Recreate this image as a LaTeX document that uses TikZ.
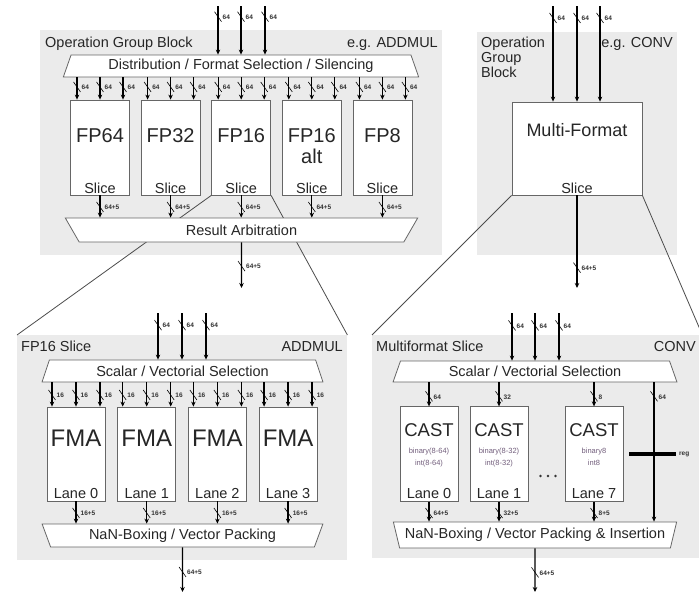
\documentclass[tikz,border=0pt]{standalone}
\usepackage{fontspec}
\setmainfont{Liberation Sans}
\usetikzlibrary{arrows.meta,calc,shapes.geometric}
\definecolor{castnote}{RGB}{115,95,125}

% slash mark and bus width on an arrow
\newcommand{\bw}[2]{%
  \draw[line width=0.6pt] ($(#1)+(-3.5,-5)$) -- ($(#1)+(3.5,5)$);
  \node[wlbl] at ($(#1)+(4.5,0.5)$) {#2};}

\begin{document}
\begin{tikzpicture}[x=1pt,y=-1pt,>=Stealth,
  grp/.style={fill=black!8,draw=none,inner sep=0pt,anchor=north west},
  unit/.style={draw=black!60,fill=white,line width=0.8pt,inner sep=0pt},
  sel/.style={trapezium,trapezium left angle=66,trapezium right angle=66,
    trapezium stretches=true,draw=black!60,fill=white,line width=0.8pt,
    inner sep=0pt,font=\fontsize{14.5}{15}\selectfont,text=black!85},
  selinv/.style={sel,shape border rotate=180},
  bus/.style={-{Stealth[length=5pt,width=4.5pt]},line width=1.3pt},
  wlbl/.style={font=\fontsize{6.5}{6.5}\selectfont\bfseries,anchor=west,inner sep=0pt,text=black!80},
  txt/.style={font=\fontsize{14.5}{15}\selectfont,inner sep=0pt,text=black!85},
  big/.style={font=\fontsize{20}{20}\selectfont,inner sep=0pt,text=black!85},
  note/.style={font=\fontsize{7.5}{8}\selectfont,inner sep=0pt,text=castnote},
  zoomline/.style={line width=0.8pt,black!70}]
  \useasboundingbox (0,0) rectangle (699,597);
  \fill[white] (0,0) rectangle (699,597);
  \clip (0,0) rectangle (699,597);

  % operation group blocks and slices
  \node[grp,minimum width=402,minimum height=225] (tlblk) at (40,30) {};
  \node[grp,minimum width=200,minimum height=223] (trblk) at (477,32) {};
  \node[grp,minimum width=330,minimum height=225] (blblk) at (17,335) {};
  \node[grp,minimum width=330,minimum height=223] (brblk) at (372,335) {};

  % top left: ADDMUL block
  \node[txt,anchor=base west] (tlname) at (45,47) {Operation Group Block};
  \node[txt,anchor=base east] (tlop) at (438,47) {e.g. ADDMUL};
  \node[sel,minimum width=356,minimum height=22] (dist) at (241,66)
    {Distribution / Format Selection / Silencing};
  \foreach \x [count=\k] in {218,241,265}{
    \coordinate (tlin\k) at (\x,6);
    \draw[bus] (tlin\k) -- coordinate[pos=.22] (m) (tlin\k |- dist.north);
    \bw{m}{64}
  }
  \foreach \n/\t/\i in {fp64/FP64/0,fp32/FP32/1,fp16/FP16/2,fp16alt/FP16/3,fp8/FP8/4}{
    \node[unit,minimum width=59,minimum height=95] (\n) at ({100+70.6*\i},147.5) {};
    \node[big,anchor=base] (\n-t) at ($(\n.north)+(0,43)$) {\t};
    \node[txt,anchor=base] (\n-s) at ($(\n.south)+(0,-2)$) {Slice};
    \foreach \o in {-23,0,23}{
      \draw[bus] ($(\n.north |- dist.south)+(\o,0)$) -- coordinate[pos=.43] (m) ($(\n.north)+(\o,0)$);
      \bw{m}{64}
    }
  }
  \node[big,anchor=base] (fp16alt-a) at ($(fp16alt.north)+(0,64)$) {alt};

  % zoom lines
  \draw[zoomline] (fp16.south west) -- (blblk.north west);
  \draw[zoomline] (fp16.south east) -- (blblk.north east);

  \node[selinv,minimum width=353,minimum height=24] (arb) at (241.5,230) {Result Arbitration};
  \foreach \n in {fp64,fp32,fp16,fp16alt,fp8}{
    \draw[bus] (\n.south) -- coordinate[pos=.52] (m) (\n.south |- arb.north);
    \bw{m}{64+5}
  }
  \coordinate (tlout) at (241.5,288);
  \draw[bus] (arb.south) -- coordinate[pos=.52] (m) (tlout);
  \bw{m}{64+5}

  % top right: CONV block
  \node[txt,align=left,anchor=north west] (trname) at (481,36.3) {Operation\\Group\\Block};
  \node[txt,anchor=base east] (trop) at (673,47) {e.g. CONV};
  \node[unit,minimum width=130,minimum height=93] (mf) at (577,148.5) {};
  \node[txt,font=\fontsize{18}{18}\selectfont,anchor=base] (mf-t) at ($(mf.north)+(0,35)$) {Multi-Format};
  \node[txt,anchor=base] (mf-s) at ($(mf.south)+(0,-2)$) {Slice};
  \foreach \x [count=\k] in {553,577,600}{
    \coordinate (trin\k) at (\x,6);
    \draw[bus] (trin\k) -- coordinate[pos=.125] (m) (trin\k |- mf.north);
    \bw{m}{64}
  }
  \coordinate (trout) at (577,288);
  \draw[bus] (mf.south) -- coordinate[pos=.78] (m) (trout);
  \bw{m}{64+5}
  \draw[zoomline] (mf.south west) -- (brblk.north west);
  \draw[zoomline] (mf.south east) -- (brblk.north east);

  % bottom left: FP16 slice
  \node[txt,anchor=base west] (blname) at (21,351) {FP16 Slice};
  \node[txt,anchor=base east] (blop) at (343,351) {ADDMUL};
  \node[sel,minimum width=281,minimum height=22] (scl) at (182.5,371) {Scalar / Vectorial Selection};
  \node[selinv,minimum width=281,minimum height=23] (nan) at (182.5,535.5) {NaN-Boxing / Vector Packing};
  \foreach \x [count=\k] in {158,182,206}{
    \coordinate (blin\k) at (\x,313);
    \draw[bus] (blin\k) -- coordinate[pos=.26] (m) (blin\k |- scl.north);
    \bw{m}{64}
  }
  \foreach \i in {0,...,3}{
    \node[unit,minimum width=58,minimum height=94] (fma\i) at ({76+70.7*\i},454) {};
    \node[txt,font=\fontsize{24}{24}\selectfont,anchor=base] (fma\i-t) at ($(fma\i.north)+(0,40)$) {FMA};
    \node[txt,anchor=base] (fma\i-s) at ($(fma\i.south)+(0,-3)$) {Lane \i};
    \foreach \o in {-24,0,24}{
      \draw[bus] ($(fma\i.north |- scl.south)+(\o,0)$) -- coordinate[pos=.52] (m) ($(fma\i.north)+(\o,0)$);
      \bw{m}{16}
    }
    \draw[bus] (fma\i.south) -- coordinate[pos=.52] (m) (fma\i.south |- nan.north);
    \bw{m}{16+5}
  }
  \coordinate (blout) at (182.5,592);
  \draw[bus] (nan.south) -- coordinate[pos=.55] (m) (blout);
  \bw{m}{64+5}

  % bottom right: multiformat slice
  \node[txt,anchor=base west] (brname) at (376,351) {Multiformat Slice};
  \node[txt,anchor=base east] (brop) at (696,351) {CONV};
  \node[sel,minimum width=284,minimum height=21] (scr) at (535,371.5) {Scalar / Vectorial Selection};
  \node[selinv,minimum width=284,minimum height=26] (nanr) at (535,535)
    {NaN-Boxing / Vector Packing \& Insertion};
  \foreach \x [count=\k] in {512,535,559}{
    \coordinate (brin\k) at (\x,313);
    \draw[bus] (brin\k) -- coordinate[pos=.26] (m) (brin\k |- scr.north);
    \bw{m}{64}
  }
  \foreach \x/\bt/\it/\w/\i in {429/binary(8-64)/int(8-64)/64/0,499/binary(8-32)/int(8-32)/32/1,594/binary8/int8/8/7}{
    \node[unit,minimum width=58,minimum height=94.5] (cast\i) at (\x,454) {};
    \node[txt,font=\fontsize{18.5}{18.5}\selectfont,anchor=base] (cast\i-t) at ($(cast\i.north)+(0,30.5)$) {CAST};
    \node[note,anchor=base] (cast\i-b) at ($(cast\i.north)+(0,47.5)$) {\bt};
    \node[note,anchor=base] (cast\i-i) at ($(cast\i.north)+(0,59.5)$) {\it};
    \node[txt,anchor=base] (cast\i-s) at ($(cast\i.south)+(0,-3)$) {Lane \i};
    \draw[bus] (cast\i.north |- scr.south) -- coordinate[pos=.58] (m) (cast\i.north);
    \bw{m}{\w}
    \draw[bus] (cast\i.south) -- coordinate[pos=.57] (m) (cast\i.south |- nanr.north);
    \bw{m}{\w+5}
  }
  \foreach \d in {-7.5,0,7.5}
    \fill[black!80] (548+\d,476) circle (1.3);
  \draw[bus] (654,0 |- scr.south) -- coordinate[pos=.1] (m) (654,0 |- nanr.north);
  \bw{m}{64}
  \coordinate (rega) at (629,454);
  \coordinate (regb) at (676,454);
  \draw[line width=4pt] (rega) -- (regb);
  \node[wlbl] (reg) at (679,454.5) {reg};
  \coordinate (brout) at (535,592);
  \draw[bus] (nanr.south) -- coordinate[pos=.55] (m) (brout);
  \bw{m}{64+5}
\end{tikzpicture}
\end{document}
